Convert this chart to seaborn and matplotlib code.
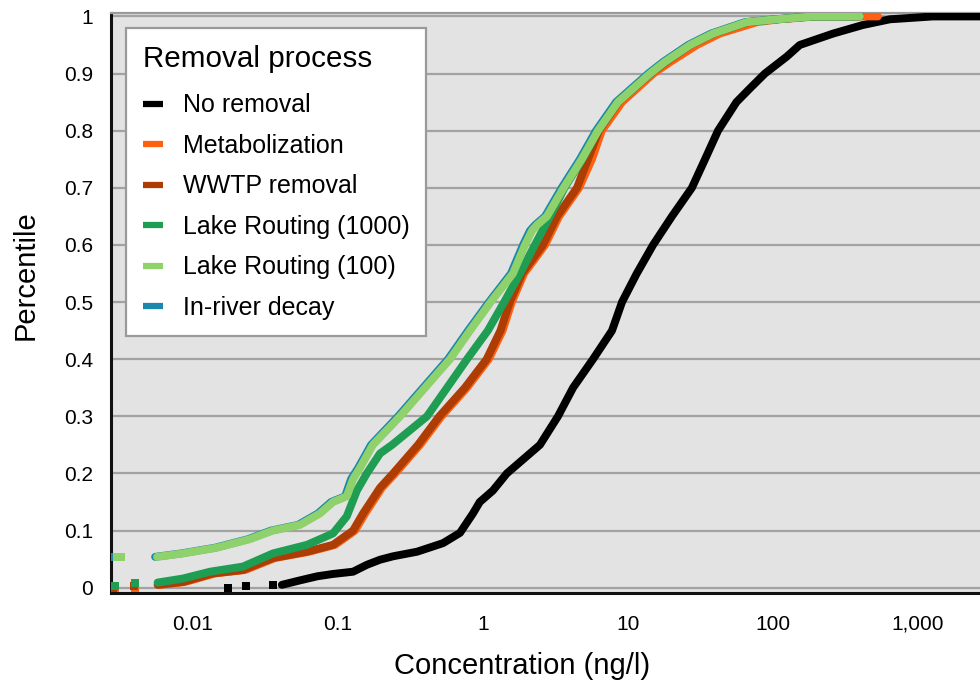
import numpy as np
import pandas as pd
import matplotlib
matplotlib.use("Agg")
import matplotlib.pyplot as plt
from matplotlib.lines import Line2D
import seaborn as sns

# ---------------- data (concentration in ng/l vs. percentile) ----------------
processes = ["No removal", "Metabolization", "WWTP removal",
             "Lake Routing (1000)", "Lake Routing (100)", "In-river decay"]
colors = ["#000000", "#ff6010", "#ad3c05", "#1f9d52", "#8fd16b", "#1a88ad"]

no_removal_pct = [0.005, 0.013, 0.02, 0.024, 0.028, 0.04, 0.049, 0.055, 0.063, 0.078,
                  0.096, 0.13, 0.15, 0.17, 0.20, 0.25, 0.30, 0.35, 0.40, 0.45,
                  0.50, 0.55, 0.60, 0.65, 0.70, 0.75, 0.80, 0.85, 0.875, 0.90,
                  0.93, 0.95, 0.97, 0.985, 0.995, 1.0, 1.0]
no_removal_conc = [0.041, 0.055, 0.072, 0.092, 0.127, 0.158, 0.195, 0.24, 0.351, 0.53,
                   0.694, 0.853, 0.95, 1.17, 1.46, 2.47, 3.29, 4.18, 5.74, 7.76,
                   9.10, 11.5, 14.9, 20.1, 27.6, 34.0, 41.8, 56, 70, 88,
                   125, 153, 260, 417, 641, 1270, 2680]
no_removal_pts_pct = [0.0, 0.003, 0.005]
no_removal_pts_conc = [0.0174, 0.0232, 0.0356]

wwtp_pct = [0.005, 0.01, 0.025, 0.031, 0.052, 0.063, 0.075, 0.10, 0.13, 0.175,
            0.20, 0.25, 0.30, 0.35, 0.40, 0.45, 0.50, 0.55, 0.60, 0.65,
            0.70, 0.75, 0.80, 0.85, 0.90, 0.92, 0.95, 0.97, 0.99, 0.995, 1.0, 1.0]
wwtp_conc = [0.0057, 0.0085, 0.0137, 0.0221, 0.0356, 0.0611, 0.0924, 0.127, 0.149, 0.195,
             0.24, 0.356, 0.50, 0.75, 1.06, 1.32, 1.53, 1.86, 2.59, 3.24,
             4.45, 5.3, 6.3, 8.6, 14.3, 18.2, 27.0, 39.0, 67, 107, 190, 400]
wwtp_pts_pct = [0.0, 0.003]
wwtp_pts_conc = [0.0028, 0.0039]

metab_pct = wwtp_pct
metab_conc = [0.0059, 0.0088, 0.0142, 0.0229, 0.0368, 0.0632, 0.0955, 0.131, 0.154, 0.201,
              0.248, 0.368, 0.517, 0.775, 1.095, 1.365, 1.58, 1.92, 2.68, 3.35,
              4.6, 5.64, 6.6, 9.1, 15.0, 19.5, 29.9, 43, 77.6, 111, 200, 530]
metab_pts_pct = [0.0, 0.0]
metab_pts_conc = [0.0029, 0.0040]

lake1000_pct = [0.009, 0.016, 0.028, 0.037, 0.06, 0.075, 0.095, 0.125, 0.17, 0.20,
                0.235, 0.25, 0.30, 0.35, 0.40, 0.45, 0.50, 0.55, 0.60, 0.65,
                0.70, 0.75, 0.80, 0.85, 0.90, 0.92, 0.95, 0.97, 0.99, 0.995, 1.0, 1.0]
lake1000_conc = [0.0057, 0.0085, 0.0131, 0.0221, 0.0356, 0.0611, 0.0924, 0.115, 0.135, 0.158,
                 0.195, 0.236, 0.411, 0.565, 0.776, 1.08, 1.40, 1.80, 2.28, 2.90,
                 3.65, 4.85, 6.2, 8.5, 14.2, 17.9, 26.8, 38.6, 66, 107, 189, 398]
lake1000_pts_pct = [0.003, 0.008]
lake1000_pts_conc = [0.0029, 0.0040]

lake100_pct = [0.054, 0.06, 0.07, 0.085, 0.10, 0.11, 0.13, 0.15, 0.16, 0.19,
               0.21, 0.25, 0.30, 0.36, 0.40, 0.45, 0.50, 0.55, 0.60, 0.625,
               0.635, 0.65, 0.70, 0.75, 0.80, 0.85, 0.90, 0.92, 0.95, 0.97,
               0.99, 0.995, 1.0, 1.0]
lake100_conc = [0.00565, 0.00853, 0.0146, 0.0247, 0.0356, 0.0547, 0.0751, 0.0924, 0.115, 0.127,
                0.142, 0.174, 0.268, 0.431, 0.592, 0.813, 1.13, 1.61, 1.95, 2.18,
                2.36, 2.76, 3.6, 4.8, 6.21, 8.53, 14.2, 17.9, 26.8, 38.6,
                66, 107, 189, 398]
lake100_pts_pct = [0.054, 0.054]
lake100_pts_conc = [0.0030, 0.0032]

decay_pct = lake100_pct
decay_conc = [0.00548, 0.00827, 0.0142, 0.024, 0.0345, 0.0531, 0.0728, 0.0896, 0.112, 0.123,
              0.138, 0.169, 0.26, 0.418, 0.574, 0.789, 1.10, 1.56, 1.89, 2.11,
              2.29, 2.68, 3.49, 4.66, 6.02, 8.27, 13.8, 17.4, 26.0, 37.4,
              64, 104, 183, 380]
decay_pts_pct = [0.054]
decay_pts_conc = [0.0028]

x_ticks = [0.01, 0.1, 1, 10, 100, 1000]
x_ticklabels = ["0.01", "0.1", "1", "10", "100", "1,000"]
y_ticks = [0, 0.1, 0.2, 0.3, 0.4, 0.5, 0.6, 0.7, 0.8, 0.9, 1.0]
y_ticklabels = ["0", "0.1", "0.2", "0.3", "0.4", "0.5", "0.6", "0.7", "0.8", "0.9", "1"]

# ---------------- build tables ----------------
lines = {
    "No removal": (no_removal_conc, no_removal_pct),
    "Metabolization": (metab_conc, metab_pct),
    "WWTP removal": (wwtp_conc, wwtp_pct),
    "Lake Routing (1000)": (lake1000_conc, lake1000_pct),
    "Lake Routing (100)": (lake100_conc, lake100_pct),
    "In-river decay": (decay_conc, decay_pct),
}
points = {
    "No removal": (no_removal_pts_conc, no_removal_pts_pct),
    "Metabolization": (metab_pts_conc, metab_pts_pct),
    "WWTP removal": (wwtp_pts_conc, wwtp_pts_pct),
    "Lake Routing (1000)": (lake1000_pts_conc, lake1000_pts_pct),
    "Lake Routing (100)": (lake100_pts_conc, lake100_pts_pct),
    "In-river decay": (decay_pts_conc, decay_pts_pct),
}
line_df = pd.concat([pd.DataFrame({"process": k, "conc": v[0], "pct": v[1]})
                     for k, v in lines.items()], ignore_index=True)
pts_df = pd.concat([pd.DataFrame({"process": k, "conc": v[0], "pct": v[1]})
                    for k, v in points.items()], ignore_index=True)
palette = dict(zip(processes, colors))

# ---------------- figure ----------------
sns.set_style("white")
plt.rcParams["font.family"] = ["Liberation Sans", "DejaVu Sans"]
plt.rcParams["text.color"] = "black"
plt.rcParams["axes.labelcolor"] = "black"
plt.rcParams["xtick.color"] = "black"
plt.rcParams["ytick.color"] = "black"

fig = plt.figure(figsize=(9.8, 6.88), dpi=100)
ax = fig.add_axes([0.1133, 0.1388, 0.8867, 0.8423])
ax.set_facecolor("#e3e3e3")
ax.set_xscale("log")

draw_order = ["No removal", "Metabolization", "WWTP removal",
              "In-river decay", "Lake Routing (1000)", "Lake Routing (100)"]
for name in draw_order:
    sub = line_df[line_df["process"] == name]
    sns.lineplot(data=sub, x="conc", y="pct", color=palette[name], linewidth=5.7,
                 estimator=None, sort=False, ax=ax, legend=False, zorder=3)
    psub = pts_df[pts_df["process"] == name]
    sns.scatterplot(data=psub, x="conc", y="pct", color=palette[name], marker="s",
                    s=33, linewidth=0, ax=ax, legend=False, zorder=3)

ax.set_xlim(0.00272, 2680)
ax.set_ylim(-0.0084, 1.006)

ax.set_xticks(x_ticks)
ax.set_xticklabels(x_ticklabels)
ax.xaxis.set_minor_locator(matplotlib.ticker.NullLocator())
ax.set_yticks(y_ticks)
ax.set_yticklabels(y_ticklabels)

ax.tick_params(axis="both", labelsize=15, direction="out", colors="black")
ax.tick_params(axis="x", length=7, width=1.3, pad=9)
ax.tick_params(axis="y", length=5, width=1.3, pad=8)

ax.set_axisbelow(True)
ax.yaxis.grid(True, color="#a2a2a2", linewidth=1.6)
ax.xaxis.grid(False)

for s in ["left", "bottom"]:
    ax.spines[s].set_color("#111111")
    ax.spines[s].set_linewidth(2.2)
ax.spines["top"].set_color("#9a9a9a")
ax.spines["top"].set_linewidth(1.6)
ax.spines["right"].set_visible(False)

ax.set_xlabel("Concentration (ng/l)", fontsize=21)
ax.set_ylabel("Percentile", fontsize=21)
ax.xaxis.set_label_coords(0.473, -0.103)
ax.yaxis.set_label_coords(-0.082, 0.548)

handles = [Line2D([0], [0], color=palette[p], linewidth=4.5, solid_capstyle="butt")
           for p in processes]
leg = ax.legend(handles, processes, title="Removal process", loc="upper left",
                bbox_to_anchor=(0.0173, 0.974), borderaxespad=0, fontsize=18,
                title_fontsize=21.3, frameon=True, fancybox=False, framealpha=1,
                edgecolor="#9a9a9a", facecolor="white", handlelength=0.8,
                handletextpad=0.8, labelspacing=0.66, borderpad=0.66)
leg.get_frame().set_linewidth(1.6)
leg._legend_box.align = "left"
leg._legend_box.sep = 15.0

fig.savefig("out.png", dpi=100, facecolor="white")
